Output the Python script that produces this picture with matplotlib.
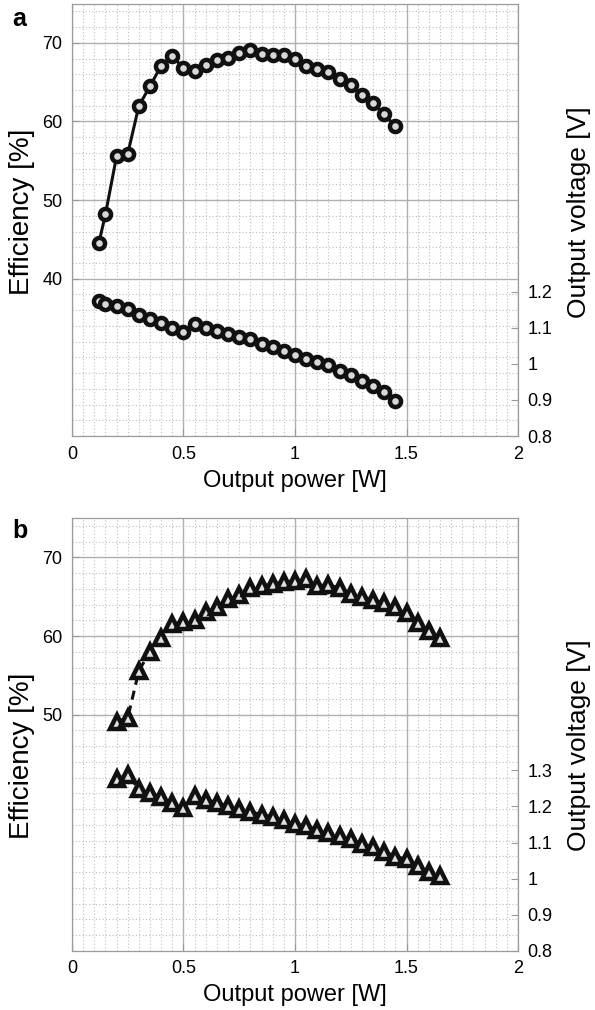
import numpy as np
import matplotlib
matplotlib.use("Agg")
import matplotlib.pyplot as plt
from matplotlib.ticker import MultipleLocator

plt.rcParams["font.family"] = ["Liberation Sans", "DejaVu Sans"]

# panel a: circles, solid line
power_a = [0.12, 0.15, 0.20, 0.25, 0.30, 0.35, 0.40, 0.45, 0.50, 0.55,
           0.60, 0.65, 0.70, 0.75, 0.80, 0.85, 0.90, 0.95, 1.00, 1.05,
           1.10, 1.15, 1.20, 1.25, 1.30, 1.35, 1.40, 1.45]
eff_a = [44.5, 48.2, 55.6, 55.9, 62.0, 64.5, 67.1, 68.3, 66.8, 66.4,
         67.2, 67.8, 68.1, 68.7, 69.1, 68.6, 68.5, 68.5, 68.0, 67.1,
         66.7, 66.3, 65.4, 64.7, 63.4, 62.3, 60.9, 59.4]
volt_a = [1.174, 1.167, 1.160, 1.153, 1.137, 1.126, 1.113, 1.101, 1.089, 1.110,
          1.101, 1.092, 1.083, 1.074, 1.069, 1.056, 1.047, 1.037, 1.026, 1.015,
          1.006, 0.996, 0.980, 0.969, 0.953, 0.938, 0.922, 0.898]

# panel b: triangles, dashed line
power_b = [0.20, 0.25, 0.30, 0.35, 0.40, 0.45, 0.50, 0.55, 0.60, 0.65,
           0.70, 0.75, 0.80, 0.85, 0.90, 0.95, 1.00, 1.05, 1.10, 1.15,
           1.20, 1.25, 1.30, 1.35, 1.40, 1.45, 1.50, 1.55, 1.60, 1.65]
eff_b = [49.1, 49.6, 55.6, 58.0, 59.8, 61.5, 61.8, 62.0, 63.0, 63.7,
         64.7, 65.2, 66.1, 66.4, 66.6, 66.9, 67.0, 67.2, 66.4, 66.5,
         66.1, 65.4, 65.0, 64.6, 64.2, 63.7, 62.9, 61.7, 60.6, 59.8]
volt_b = [1.276, 1.288, 1.248, 1.237, 1.226, 1.211, 1.196, 1.228, 1.219, 1.211,
          1.200, 1.193, 1.186, 1.177, 1.171, 1.163, 1.152, 1.146, 1.136, 1.127,
          1.117, 1.109, 1.096, 1.087, 1.075, 1.061, 1.054, 1.035, 1.019, 1.006]

x_ticks = [0, 0.5, 1, 1.5, 2]
x_ticklabels = ["0", "0.5", "1", "1.5", "2"]
eff_ticks_a = [40, 50, 60, 70]
eff_ticks_b = [50, 60, 70]
volt_ticks_a = [0.8, 0.9, 1.0, 1.1, 1.2]
volt_labels_a = ["0.8", "0.9", "1", "1.1", "1.2"]
volt_ticks_b = [0.8, 0.9, 1.0, 1.1, 1.2, 1.3]
volt_labels_b = ["0.8", "0.9", "1", "1.1", "1.2", "1.3"]

TICK_FS = 13
XLABEL_FS = 17
EFF_LABEL_FS = 20
VOLT_LABEL_FS = 19
SPINE = "#9a9a9a"

fig = plt.figure(figsize=(5.95, 10.10), dpi=100)
ax_a = fig.add_axes([0.121, 0.5683, 0.7496, 0.4282])
ax_b = fig.add_axes([0.121, 0.0587, 0.7496, 0.4284])


def style_panel(ax, eff_ticks, volt_ticks, volt_labels, ylab_y, vlab_y):
    ax.set_xlim(0, 2)
    ax.set_ylim(20, 75)
    ax.set_xticks(x_ticks)
    ax.set_xticklabels(x_ticklabels)
    ax.set_yticks(eff_ticks)
    ax.xaxis.set_minor_locator(MultipleLocator(0.05))
    ax.yaxis.set_minor_locator(MultipleLocator(2))
    ax.grid(True, which="major", color="#b0b0b0", linewidth=1.0, linestyle="-")
    ax.grid(True, which="minor", color="#bdbdbd", linewidth=0.8, linestyle=(0, (1, 2)))
    ax.set_axisbelow(True)
    ax.tick_params(which="both", direction="in", labelsize=TICK_FS, color=SPINE)
    ax.tick_params(which="major", length=5)
    ax.tick_params(which="minor", length=0)
    ax.tick_params(axis="x", pad=7)
    ax.tick_params(axis="y", pad=7)
    for sp in ax.spines.values():
        sp.set_color(SPINE)
    ax.set_xlabel("Output power [W]", fontsize=XLABEL_FS, labelpad=5)
    ax.set_ylabel("Efficiency [%]", fontsize=EFF_LABEL_FS, va="center")
    ax.yaxis.set_label_coords(-0.112, ylab_y)

    axr = ax.twinx()
    axr.set_ylim(0.8, 2.0)
    axr.set_yticks(volt_ticks)
    axr.set_yticklabels(volt_labels)
    axr.tick_params(direction="in", labelsize=TICK_FS, length=5, color=SPINE, pad=7)
    for sp in axr.spines.values():
        sp.set_color(SPINE)
    axr.set_ylabel("Output voltage [V]", fontsize=VOLT_LABEL_FS, va="center")
    axr.yaxis.set_label_coords(1.137, vlab_y)
    return axr


axr_a = style_panel(ax_a, eff_ticks_a, volt_ticks_a, volt_labels_a, 0.518, 0.518)
axr_b = style_panel(ax_b, eff_ticks_b, volt_ticks_b, volt_labels_b, 0.45, 0.475)

circ = dict(marker="o", markersize=8, markerfacecolor="#d8d8d8",
            markeredgecolor="#111111", markeredgewidth=3.2, color="#111111",
            linewidth=2.2)
ax_a.plot(power_a, eff_a, linestyle="-", **circ)
axr_a.plot(power_a, volt_a, linestyle="-", **circ)

tri = dict(marker="^", markersize=9.5, markerfacecolor="#e0e0e0",
           markeredgecolor="#111111", markeredgewidth=3.2, color="#111111",
           linewidth=2.2)
ax_b.plot(power_b, eff_b, linestyle=(0, (3, 2)), **tri)
axr_b.plot(power_b, volt_b, linestyle=(0, (3, 2)), **tri)

fig.text(0.02, 0.981, "a", fontsize=18, fontweight="bold", ha="left", va="center")
fig.text(0.02, 0.474, "b", fontsize=18, fontweight="bold", ha="left", va="center")

fig.savefig("out.png", dpi=100)
